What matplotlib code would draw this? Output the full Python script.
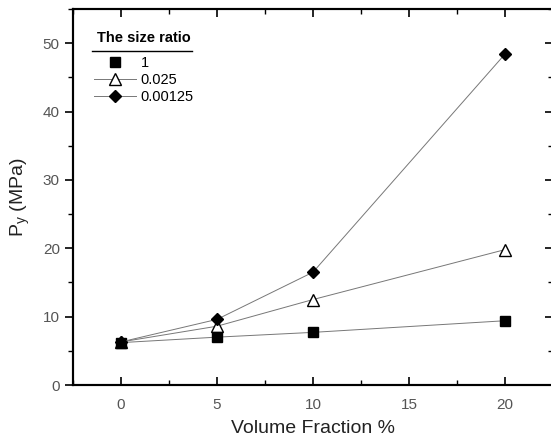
import matplotlib.pyplot as plt
from matplotlib.ticker import MultipleLocator
from matplotlib.lines import Line2D

plt.rcParams["font.family"] = ["Liberation Sans", "DejaVu Sans"]

# Data
volume_fraction = [0, 5, 10, 20]
py_ratio_1 = [6.2, 7.0, 7.7, 9.4]
py_ratio_0025 = [6.3, 8.6, 12.5, 19.8]
py_ratio_000125 = [6.3, 9.6, 16.5, 48.4]

fig = plt.figure(figsize=(5.51, 4.48), dpi=100)
ax = fig.add_axes([0.1325, 0.1406, 0.8711, 0.8394])

line_kw = dict(color="#777777", linewidth=0.7)
ax.plot(volume_fraction, py_ratio_1, **line_kw, zorder=1)
ax.plot(volume_fraction, py_ratio_1, linestyle="None", marker="s", markersize=6.5,
        color="black", label="1", zorder=3)
ax.plot(volume_fraction, py_ratio_0025, **line_kw, marker="^", markersize=8,
        markerfacecolor="white", markeredgecolor="black", markeredgewidth=1.0,
        label="0.025", zorder=2)
ax.plot(volume_fraction, py_ratio_000125, **line_kw, marker="D", markersize=6.5,
        markerfacecolor="black", markeredgecolor="black", label="0.00125", zorder=3)

ax.set_xlim(-2.5, 22.5)
ax.set_ylim(0, 55)
ax.xaxis.set_major_locator(MultipleLocator(5))
ax.xaxis.set_minor_locator(MultipleLocator(2.5))
ax.yaxis.set_major_locator(MultipleLocator(10))
ax.yaxis.set_minor_locator(MultipleLocator(5))

ax.tick_params(axis="x", which="both", direction="in", top=True, bottom=True)
ax.tick_params(axis="y", which="both", direction="out", left=True)
ax.tick_params(which="major", length=6, width=1.2, labelsize=11, labelcolor="#555555")
ax.tick_params(which="minor", length=3.5, width=1.0)
ax.tick_params(axis="x", which="major", pad=9)

# right-side inward ticks like the original
ax2 = ax.twinx()
ax2.set_ylim(ax.get_ylim())
ax2.yaxis.set_major_locator(MultipleLocator(10))
ax2.yaxis.set_minor_locator(MultipleLocator(5))
ax2.tick_params(axis="y", which="both", direction="in", labelright=False)
ax2.tick_params(which="major", length=6, width=1.2)
ax2.tick_params(which="minor", length=3.5, width=1.0)

for a in (ax, ax2):
    for s in a.spines.values():
        s.set_linewidth(1.5)

ax.set_xlabel("Volume Fraction %", fontsize=14, color="#222222", labelpad=6)
ax.set_ylabel("P$_\\mathregular{y}$ (MPa)", fontsize=14, color="#222222", labelpad=8)

leg = ax.legend(loc="upper left", bbox_to_anchor=(0.025, 0.965), frameon=False,
                title="The size ratio", fontsize=10.5, handlelength=2.9,
                handletextpad=0.3, labelspacing=0.2, borderaxespad=0.2)
leg.get_title().set_fontweight("bold")
leg.get_title().set_fontsize(10.5)
leg._legend_box.sep = 8

# underline under legend title
fig.add_artist(Line2D([92 / 551, 192 / 551], [1 - 51 / 448, 1 - 51 / 448],
                      color="black", linewidth=1.0))

fig.savefig("out.png", dpi=100)
